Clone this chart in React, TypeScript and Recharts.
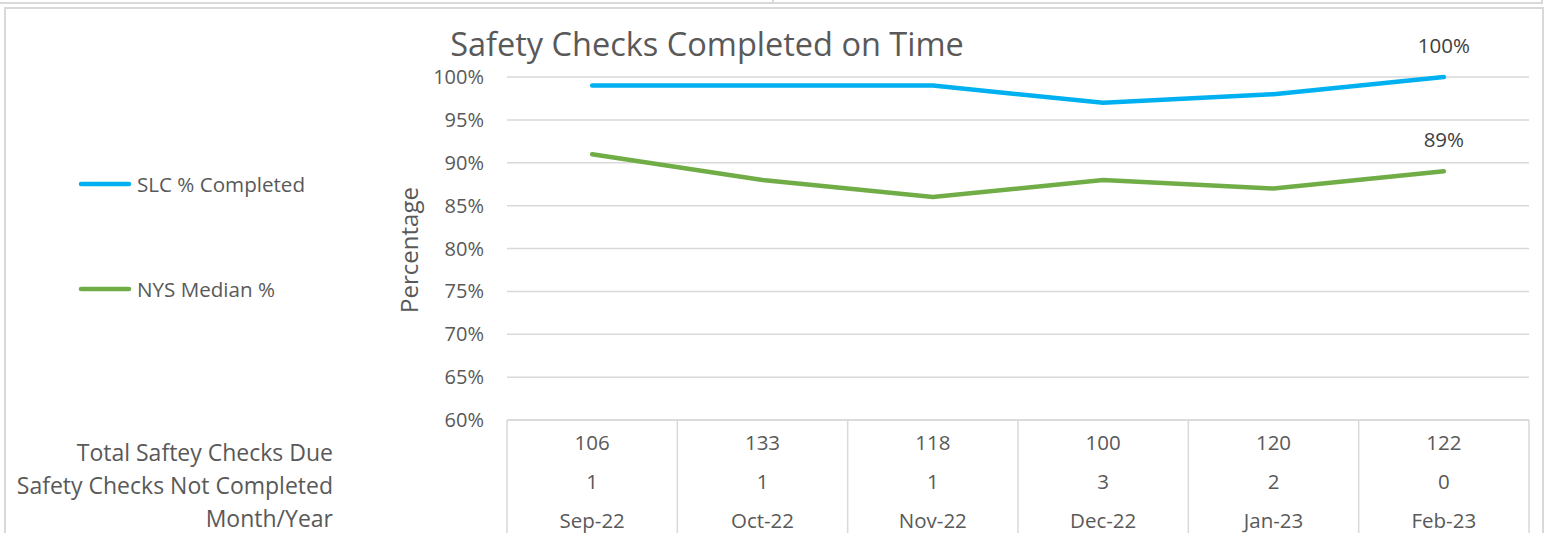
import React from "react";
import {
  CartesianGrid,
  LabelList,
  Legend,
  Line,
  LineChart,
  XAxis,
  YAxis,
} from "recharts";

const MONTHS = ["Sep-22", "Oct-22", "Nov-22", "Dec-22", "Jan-23", "Feb-23"];
const TOTAL_DUE = [106, 133, 118, 100, 120, 122];
const NOT_COMPLETED = [1, 1, 1, 3, 2, 0];
const SLC_PCT = [99, 99, 99, 97, 98, 100];
const NYS_PCT = [91, 88, 86, 88, 87, 89];
const Y_TICKS = [60, 65, 70, 75, 80, 85, 90, 95, 100];
const ROW_LABELS = ["Total Saftey Checks Due", "Safety Checks Not Completed", "Month/Year"];

const SERIES = [
  { key: "slc", label: "SLC % Completed", color: "#00B0F0" },
  { key: "nys", label: "NYS Median %", color: "#70AD47" },
];

const data = MONTHS.map((m, i) => ({
  month: m,
  slc: SLC_PCT[i],
  nys: NYS_PCT[i],
}));

const W = 1548;
const H = 533;
const PLOT_LEFT = 507;
const PLOT_RIGHT = 1529;
const PLOT_TOP = 77;
const PLOT_BOTTOM = 420;
const Y_AXIS_W = 100;
const BAND = (PLOT_RIGHT - PLOT_LEFT) / MONTHS.length;

const FONT = '"Open Sans", sans-serif';
const TEXT = "#595959";
const GRID = "#D9D9D9";

function TableTick(props: any) {
  const { x, y, index } = props;
  const half = BAND / 2;
  const last = index === MONTHS.length - 1;
  const t = { textAnchor: "middle" as const, dominantBaseline: "central" as const, fill: TEXT, fontSize: 20.5, fontFamily: FONT };
  return (
    <g>
      <line x1={x - half} y1={y} x2={x - half} y2={H} stroke={GRID} strokeWidth={1.5} />
      {last && <line x1={x + half} y1={y} x2={x + half} y2={H} stroke={GRID} strokeWidth={1.5} />}
      <text x={x} y={y + 22} {...t}>{TOTAL_DUE[index]}</text>
      <text x={x} y={y + 61} {...t}>{NOT_COMPLETED[index]}</text>
      <text x={x} y={y + 100} {...t}>{MONTHS[index]}</text>
    </g>
  );
}

function lastLabel(props: any) {
  const { x, y, value, index } = props;
  if (index !== MONTHS.length - 1) return null;
  return (
    <text x={x} y={y - 32} textAnchor="middle" dominantBaseline="central" fill="#404040" fontSize={20.5} fontFamily={FONT}>
      {`${value}%`}
    </text>
  );
}

function SideLegend(props: any) {
  const items = props.payload || [];
  const rows = [184, 289];
  return (
    <div style={{ position: "relative", width: 400, height: 400 }}>
      {SERIES.map((s, i) => {
        const it = items.find((p: any) => p.value === s.label) || { value: s.label, color: s.color };
        return (
          <div key={s.key} style={{ position: "absolute", left: 0, top: rows[i] - 15, height: 30, display: "flex", alignItems: "center" }}>
            <svg width={135} height={30}>
              <line x1={81} y1={15} x2={129} y2={15} stroke={it.color} strokeWidth={4.5} strokeLinecap="round" />
            </svg>
            <span style={{ fontFamily: FONT, fontSize: 20.6, color: TEXT, marginLeft: 2, whiteSpace: "nowrap" }}>{it.value}</span>
          </div>
        );
      })}
    </div>
  );
}

export default function App() {
  return (
    <div style={{ position: "absolute", left: 0, top: 0, width: W, height: H, background: "#fff", overflow: "hidden" }}>
      {/* frame lines from the sheet */}
      <div style={{ position: "absolute", left: 0, top: 2, width: 1543, height: 2, background: GRID }} />
      <div style={{ position: "absolute", left: 772, top: 0, width: 2, height: 4, background: GRID }} />
      <div style={{ position: "absolute", left: 1541, top: 0, width: 2, height: 4, background: GRID }} />
      <div style={{ position: "absolute", left: 4, top: 7, width: 1536, height: 540, border: `2px solid ${GRID}` }} />

      <div style={{ position: "absolute", left: 407, width: 600, top: 23, textAlign: "center", fontFamily: FONT, fontSize: 32.5, color: TEXT, lineHeight: "42px", whiteSpace: "nowrap" }}>
        Safety Checks Completed on Time
      </div>
      <div style={{ position: "absolute", left: 408, top: 250, transform: "translate(-50%, -50%) rotate(-90deg)", fontFamily: FONT, fontSize: 24, color: TEXT, whiteSpace: "nowrap" }}>
        Percentage
      </div>
      <div style={{ position: "absolute", left: 0, width: 333, top: 436, textAlign: "right", fontFamily: FONT, fontSize: 23, color: TEXT, lineHeight: "33px", whiteSpace: "nowrap" }}>
        {ROW_LABELS.map((r) => (
          <div key={r}>{r}</div>
        ))}
      </div>

      <div style={{ position: "absolute", left: 0, top: 0 }}>
        <LineChart
          width={W}
          height={H}
          data={data}
          margin={{ top: PLOT_TOP, right: W - PLOT_RIGHT, left: PLOT_LEFT - Y_AXIS_W, bottom: 0 }}
        >
          <CartesianGrid stroke={GRID} strokeWidth={1.5} vertical={false} />
          <XAxis
            dataKey="month"
            scale="band"
            height={H - PLOT_BOTTOM}
            interval={0}
            tickLine={false}
            tickSize={0}
            tickMargin={0}
            axisLine={{ stroke: GRID, strokeWidth: 1.5 }}
            tick={<TableTick />}
          />
          <YAxis
            width={Y_AXIS_W}
            domain={[60, 100]}
            ticks={Y_TICKS}
            tickFormatter={(v) => `${v}%`}
            tickLine={false}
            axisLine={false}
            tickSize={0}
            tickMargin={23}
            tick={{ fill: TEXT, fontSize: 20, fontFamily: FONT }}
          />
          <Legend
            layout="vertical"
            align="center"
            verticalAlign="middle"
            content={<SideLegend />}
            wrapperStyle={{ left: 0, top: 0, width: 400, height: 400 }}
          />
          {SERIES.map((s) => (
            <Line
              key={s.key}
              dataKey={s.key}
              name={s.label}
              type="linear"
              stroke={s.color}
              strokeWidth={4.5}
              strokeLinecap="round"
              dot={false}
              activeDot={false}
              isAnimationActive={false}
            >
              <LabelList dataKey={s.key} content={lastLabel} />
            </Line>
          ))}
        </LineChart>
      </div>
    </div>
  );
}
